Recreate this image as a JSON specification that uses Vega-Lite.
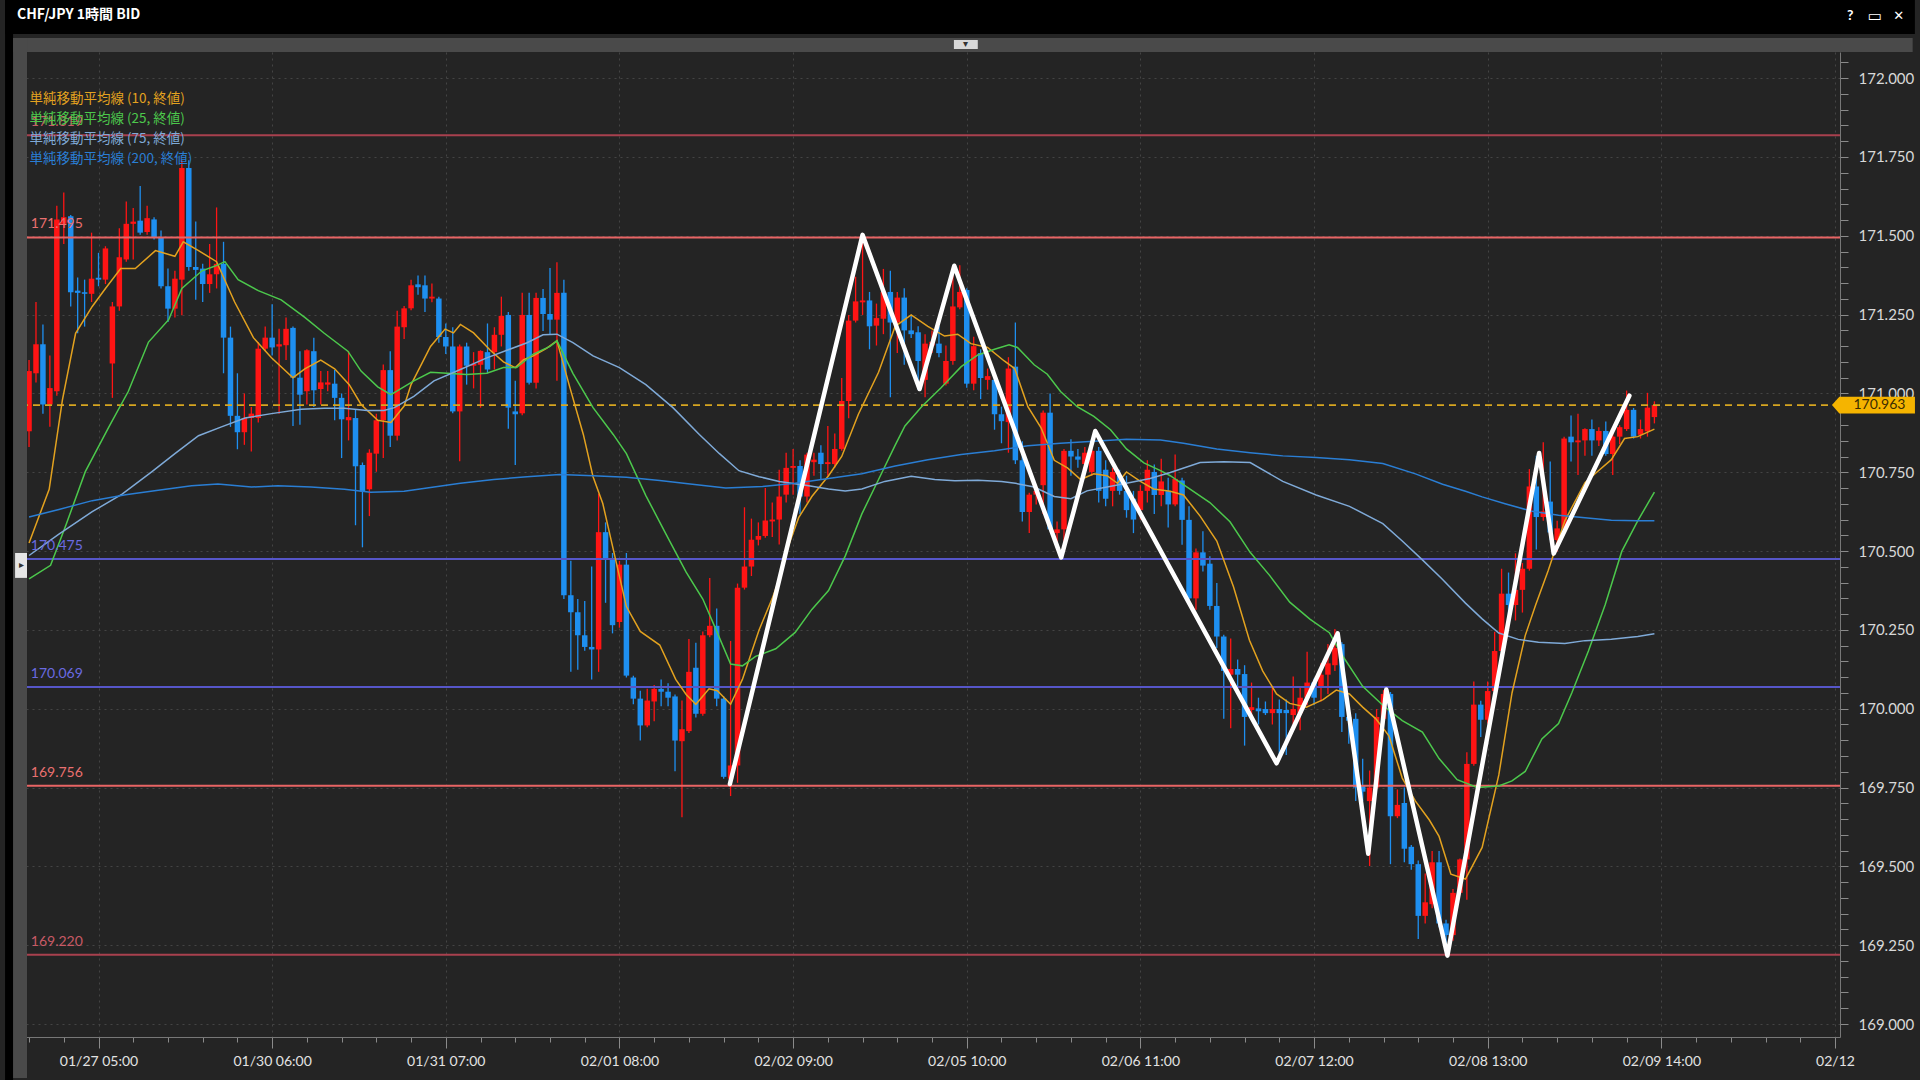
{
"$schema": "https://vega.github.io/schema/vega-lite/v6.json",
"width": 1817, "height": 985,
"autosize": {"type": "none"},
"padding": {"left": 23, "top": 52, "right": 80, "bottom": 43},
"background": "#242424",
"view": {"fill": "#242424", "stroke": null},
"config": {"font": "Lato"},
"datasets": {
"levels": [{"lv":171.819,"k":"a"},{"lv":171.495,"k":"b"},{"lv":170.475,"k":"c"},{"lv":170.069,"k":"c"},{"lv":169.756,"k":"b"},{"lv":169.22,"k":"a"}],
"zz": [{"i":90.9,"p":169.761},{"i":110.0,"p":171.503},{"i":118.2,"p":171.014},{"i":123.2,"p":171.405},{"i":138.6,"p":170.48},{"i":143.5,"p":170.881},{"i":169.6,"p":169.827},{"i":178.4,"p":170.239},{"i":182.8,"p":169.54},{"i":185.4,"p":170.061},{"i":194.2,"p":169.217},{"i":207.4,"p":170.811},{"i":209.5,"p":170.492},{"i":220.4,"p":170.993}],
"candles": [
{"i":-10,"o":170.880,"h":171.106,"l":170.830,"c":171.071},
{"i":-9,"o":171.064,"h":171.290,"l":171.035,"c":171.156},
{"i":-8,"o":171.156,"h":171.219,"l":170.936,"c":170.965},
{"i":-7,"o":170.965,"h":171.120,"l":170.894,"c":171.017},
{"i":-6,"o":171.007,"h":171.595,"l":170.993,"c":171.552},
{"i":-5,"o":171.538,"h":171.637,"l":171.474,"c":171.559},
{"i":-4,"o":171.562,"h":171.566,"l":171.276,"c":171.321},
{"i":-3,"o":171.326,"h":171.368,"l":171.191,"c":171.319},
{"i":-2,"o":171.321,"h":171.361,"l":171.212,"c":171.316},
{"i":-1,"o":171.316,"h":171.510,"l":171.290,"c":171.364},
{"i":0,"o":171.367,"h":171.446,"l":171.340,"c":171.361},
{"i":1,"o":171.361,"h":171.467,"l":171.347,"c":171.460},
{"i":2,"o":171.095,"h":171.290,"l":170.986,"c":171.276},
{"i":3,"o":171.276,"h":171.524,"l":171.262,"c":171.432},
{"i":4,"o":171.425,"h":171.609,"l":171.418,"c":171.538},
{"i":5,"o":171.538,"h":171.588,"l":171.425,"c":171.545},
{"i":6,"o":171.548,"h":171.658,"l":171.503,"c":171.510},
{"i":7,"o":171.512,"h":171.595,"l":171.503,"c":171.556},
{"i":8,"o":171.552,"h":171.559,"l":171.488,"c":171.496},
{"i":9,"o":171.496,"h":171.517,"l":171.333,"c":171.340},
{"i":10,"o":171.340,"h":171.396,"l":171.227,"c":171.269},
{"i":11,"o":171.269,"h":171.389,"l":171.241,"c":171.364},
{"i":12,"o":171.361,"h":171.740,"l":171.248,"c":171.715},
{"i":13,"o":171.715,"h":171.740,"l":171.389,"c":171.401},
{"i":14,"o":171.401,"h":171.545,"l":171.297,"c":171.392},
{"i":15,"o":171.396,"h":171.411,"l":171.290,"c":171.347},
{"i":16,"o":171.347,"h":171.474,"l":171.319,"c":171.378},
{"i":17,"o":171.378,"h":171.590,"l":171.333,"c":171.411},
{"i":18,"o":171.411,"h":171.481,"l":171.064,"c":171.177},
{"i":19,"o":171.177,"h":171.212,"l":170.894,"c":170.929},
{"i":20,"o":170.929,"h":171.064,"l":170.823,"c":170.877},
{"i":21,"o":170.877,"h":171.000,"l":170.837,"c":170.922},
{"i":22,"o":170.922,"h":170.957,"l":170.816,"c":170.936},
{"i":23,"o":170.922,"h":171.163,"l":170.908,"c":171.142},
{"i":24,"o":171.142,"h":171.212,"l":171.134,"c":171.177},
{"i":25,"o":171.177,"h":171.283,"l":171.120,"c":171.146},
{"i":26,"o":171.149,"h":171.205,"l":170.936,"c":171.156},
{"i":27,"o":171.153,"h":171.241,"l":171.106,"c":171.205},
{"i":28,"o":171.208,"h":171.212,"l":170.897,"c":171.050},
{"i":29,"o":171.050,"h":171.134,"l":170.901,"c":170.996},
{"i":30,"o":171.007,"h":171.140,"l":170.965,"c":171.137},
{"i":31,"o":171.134,"h":171.177,"l":170.957,"c":171.010},
{"i":32,"o":171.014,"h":171.071,"l":170.965,"c":171.035},
{"i":33,"o":171.028,"h":171.071,"l":171.007,"c":171.035},
{"i":34,"o":171.031,"h":171.074,"l":170.915,"c":170.986},
{"i":35,"o":170.986,"h":171.000,"l":170.795,"c":170.918},
{"i":36,"o":170.915,"h":171.134,"l":170.851,"c":170.925},
{"i":37,"o":170.922,"h":170.950,"l":170.582,"c":170.769},
{"i":38,"o":170.773,"h":170.781,"l":170.512,"c":170.689},
{"i":39,"o":170.696,"h":170.823,"l":170.611,"c":170.812},
{"i":40,"o":170.809,"h":170.936,"l":170.752,"c":170.915},
{"i":41,"o":170.915,"h":171.092,"l":170.795,"c":171.074},
{"i":42,"o":171.074,"h":171.134,"l":170.830,"c":170.866},
{"i":43,"o":170.866,"h":171.262,"l":170.851,"c":171.212},
{"i":44,"o":171.210,"h":171.277,"l":171.173,"c":171.270},
{"i":45,"o":171.270,"h":171.361,"l":171.264,"c":171.343},
{"i":46,"o":171.346,"h":171.374,"l":171.313,"c":171.337},
{"i":47,"o":171.343,"h":171.374,"l":171.258,"c":171.301},
{"i":48,"o":171.301,"h":171.349,"l":171.289,"c":171.307},
{"i":49,"o":171.301,"h":171.307,"l":171.161,"c":171.179},
{"i":50,"o":171.179,"h":171.222,"l":171.125,"c":171.149},
{"i":51,"o":171.149,"h":171.210,"l":170.937,"c":170.943},
{"i":52,"o":170.943,"h":171.155,"l":170.785,"c":171.149},
{"i":53,"o":171.149,"h":171.161,"l":171.028,"c":171.088},
{"i":54,"o":171.088,"h":171.131,"l":171.016,"c":171.094},
{"i":55,"o":171.091,"h":171.137,"l":170.955,"c":171.135},
{"i":56,"o":171.131,"h":171.222,"l":171.064,"c":171.076},
{"i":57,"o":171.131,"h":171.210,"l":171.076,"c":171.186},
{"i":58,"o":171.186,"h":171.307,"l":171.149,"c":171.246},
{"i":59,"o":171.249,"h":171.258,"l":170.888,"c":170.955},
{"i":60,"o":170.943,"h":171.040,"l":170.773,"c":170.934},
{"i":61,"o":170.937,"h":171.319,"l":170.931,"c":171.249},
{"i":62,"o":171.249,"h":171.319,"l":171.028,"c":171.034},
{"i":63,"o":171.034,"h":171.319,"l":171.016,"c":171.303},
{"i":64,"o":171.303,"h":171.331,"l":171.198,"c":171.252},
{"i":65,"o":171.252,"h":171.398,"l":171.186,"c":171.234},
{"i":66,"o":171.234,"h":171.416,"l":171.040,"c":171.319},
{"i":67,"o":171.319,"h":171.361,"l":170.348,"c":170.360},
{"i":68,"o":170.360,"h":170.469,"l":170.117,"c":170.306},
{"i":69,"o":170.306,"h":170.348,"l":170.124,"c":170.233},
{"i":70,"o":170.233,"h":170.342,"l":170.184,"c":170.196},
{"i":71,"o":170.196,"h":170.451,"l":170.093,"c":170.188},
{"i":72,"o":170.188,"h":170.682,"l":170.117,"c":170.560},
{"i":73,"o":170.560,"h":170.591,"l":170.336,"c":170.475},
{"i":74,"o":170.475,"h":170.494,"l":170.239,"c":170.265},
{"i":75,"o":170.275,"h":170.469,"l":170.257,"c":170.457},
{"i":76,"o":170.457,"h":170.494,"l":170.099,"c":170.105},
{"i":77,"o":170.099,"h":170.105,"l":170.014,"c":170.032},
{"i":78,"o":170.032,"h":170.057,"l":169.899,"c":169.947},
{"i":79,"o":169.947,"h":170.063,"l":169.941,"c":170.026},
{"i":80,"o":170.023,"h":170.075,"l":169.960,"c":170.063},
{"i":81,"o":170.063,"h":170.093,"l":170.008,"c":170.054},
{"i":82,"o":170.054,"h":170.081,"l":170.008,"c":170.035},
{"i":83,"o":170.039,"h":170.045,"l":169.802,"c":169.899},
{"i":84,"o":169.897,"h":170.026,"l":169.656,"c":169.935},
{"i":85,"o":169.929,"h":170.221,"l":169.923,"c":170.117},
{"i":86,"o":170.130,"h":170.209,"l":169.972,"c":169.984},
{"i":87,"o":169.984,"h":170.245,"l":169.978,"c":170.233},
{"i":88,"o":170.233,"h":170.415,"l":170.227,"c":170.263},
{"i":89,"o":170.263,"h":170.318,"l":170.008,"c":170.032},
{"i":90,"o":170.032,"h":170.040,"l":169.778,"c":169.784},
{"i":91,"o":169.778,"h":170.215,"l":169.723,"c":169.820},
{"i":92,"o":169.820,"h":170.397,"l":169.765,"c":170.384},
{"i":93,"o":170.384,"h":170.639,"l":170.378,"c":170.451},
{"i":94,"o":170.451,"h":170.603,"l":170.421,"c":170.536},
{"i":95,"o":170.536,"h":170.591,"l":170.518,"c":170.548},
{"i":96,"o":170.548,"h":170.700,"l":170.542,"c":170.597},
{"i":97,"o":170.594,"h":170.654,"l":170.545,"c":170.600},
{"i":98,"o":170.600,"h":170.758,"l":170.521,"c":170.673},
{"i":99,"o":170.679,"h":170.812,"l":170.654,"c":170.764},
{"i":100,"o":170.764,"h":170.824,"l":170.679,"c":170.770},
{"i":101,"o":170.770,"h":170.788,"l":170.618,"c":170.673},
{"i":102,"o":170.673,"h":170.812,"l":170.654,"c":170.806},
{"i":103,"o":170.782,"h":170.812,"l":170.739,"c":170.790},
{"i":104,"o":170.812,"h":170.836,"l":170.727,"c":170.776},
{"i":105,"o":170.776,"h":170.897,"l":170.739,"c":170.782},
{"i":106,"o":170.776,"h":170.873,"l":170.764,"c":170.824},
{"i":107,"o":170.824,"h":171.049,"l":170.818,"c":170.976},
{"i":108,"o":170.976,"h":171.249,"l":170.921,"c":171.231},
{"i":109,"o":171.231,"h":171.370,"l":171.225,"c":171.292},
{"i":110,"o":171.289,"h":171.498,"l":171.249,"c":171.295},
{"i":111,"o":171.295,"h":171.322,"l":171.140,"c":171.213},
{"i":112,"o":171.215,"h":171.285,"l":171.152,"c":171.239},
{"i":113,"o":171.237,"h":171.395,"l":171.188,"c":171.322},
{"i":114,"o":171.322,"h":171.389,"l":170.988,"c":171.225},
{"i":115,"o":171.225,"h":171.322,"l":171.128,"c":171.304},
{"i":116,"o":171.304,"h":171.334,"l":171.091,"c":171.200},
{"i":117,"o":171.200,"h":171.249,"l":171.176,"c":171.188},
{"i":118,"o":171.194,"h":171.213,"l":171.012,"c":171.103},
{"i":119,"o":171.043,"h":171.188,"l":170.988,"c":171.158},
{"i":120,"o":171.152,"h":171.200,"l":171.128,"c":171.164},
{"i":121,"o":171.158,"h":171.213,"l":171.115,"c":171.128},
{"i":122,"o":171.031,"h":171.152,"l":171.025,"c":171.103},
{"i":123,"o":171.103,"h":171.382,"l":171.091,"c":171.276},
{"i":124,"o":171.273,"h":171.407,"l":171.267,"c":171.322},
{"i":125,"o":171.328,"h":171.334,"l":171.018,"c":171.031},
{"i":126,"o":171.031,"h":171.180,"l":171.010,"c":171.150},
{"i":127,"o":171.128,"h":171.140,"l":170.982,"c":171.049},
{"i":128,"o":171.043,"h":171.079,"l":171.012,"c":171.055},
{"i":129,"o":171.043,"h":171.055,"l":170.885,"c":170.934},
{"i":130,"o":170.934,"h":170.958,"l":170.842,"c":170.912},
{"i":131,"o":170.909,"h":171.115,"l":170.812,"c":171.079},
{"i":132,"o":171.085,"h":171.225,"l":170.776,"c":170.788},
{"i":133,"o":170.788,"h":170.848,"l":170.594,"c":170.624},
{"i":134,"o":170.624,"h":170.685,"l":170.557,"c":170.679},
{"i":135,"o":170.679,"h":170.709,"l":170.648,"c":170.691},
{"i":136,"o":170.709,"h":170.946,"l":170.618,"c":170.939},
{"i":137,"o":170.939,"h":171.000,"l":170.563,"c":170.569},
{"i":138,"o":170.557,"h":170.594,"l":170.521,"c":170.569},
{"i":139,"o":170.569,"h":170.824,"l":170.509,"c":170.818},
{"i":140,"o":170.818,"h":170.855,"l":170.739,"c":170.800},
{"i":141,"o":170.800,"h":170.824,"l":170.764,"c":170.790},
{"i":142,"o":170.776,"h":170.830,"l":170.751,"c":170.812},
{"i":143,"o":170.751,"h":170.830,"l":170.739,"c":170.818},
{"i":144,"o":170.818,"h":170.830,"l":170.654,"c":170.691},
{"i":145,"o":170.758,"h":170.788,"l":170.642,"c":170.666},
{"i":146,"o":170.691,"h":170.764,"l":170.642,"c":170.751},
{"i":147,"o":170.739,"h":170.758,"l":170.679,"c":170.691},
{"i":148,"o":170.691,"h":170.739,"l":170.606,"c":170.630},
{"i":149,"o":170.666,"h":170.691,"l":170.557,"c":170.600},
{"i":150,"o":170.630,"h":170.709,"l":170.600,"c":170.691},
{"i":151,"o":170.691,"h":170.788,"l":170.654,"c":170.758},
{"i":152,"o":170.751,"h":170.775,"l":170.618,"c":170.678},
{"i":153,"o":170.678,"h":170.793,"l":170.642,"c":170.721},
{"i":154,"o":170.690,"h":170.733,"l":170.575,"c":170.648},
{"i":155,"o":170.648,"h":170.806,"l":170.642,"c":170.729},
{"i":156,"o":170.724,"h":170.733,"l":170.520,"c":170.599},
{"i":157,"o":170.599,"h":170.642,"l":170.338,"c":170.350},
{"i":158,"o":170.350,"h":170.508,"l":170.314,"c":170.496},
{"i":159,"o":170.496,"h":170.563,"l":170.435,"c":170.454},
{"i":160,"o":170.460,"h":170.484,"l":170.314,"c":170.326},
{"i":161,"o":170.326,"h":170.399,"l":170.193,"c":170.229},
{"i":162,"o":170.229,"h":170.235,"l":169.968,"c":170.120},
{"i":163,"o":170.108,"h":170.223,"l":169.938,"c":170.126},
{"i":164,"o":170.126,"h":170.156,"l":170.071,"c":170.108},
{"i":165,"o":170.110,"h":170.138,"l":169.883,"c":169.974},
{"i":166,"o":169.996,"h":170.083,"l":169.968,"c":170.005},
{"i":167,"o":170.001,"h":170.035,"l":169.950,"c":169.992},
{"i":168,"o":169.999,"h":170.023,"l":169.980,"c":169.986},
{"i":169,"o":169.986,"h":170.071,"l":169.950,"c":169.999},
{"i":170,"o":169.999,"h":170.029,"l":169.835,"c":169.986},
{"i":171,"o":169.996,"h":170.029,"l":169.853,"c":169.986},
{"i":172,"o":169.980,"h":170.102,"l":169.950,"c":169.999},
{"i":173,"o":169.986,"h":170.071,"l":169.932,"c":170.035},
{"i":174,"o":170.035,"h":170.181,"l":170.011,"c":170.083},
{"i":175,"o":170.083,"h":170.096,"l":170.011,"c":170.035},
{"i":176,"o":170.071,"h":170.144,"l":170.023,"c":170.108},
{"i":177,"o":170.108,"h":170.205,"l":170.047,"c":170.144},
{"i":178,"o":170.138,"h":170.253,"l":170.120,"c":170.193},
{"i":179,"o":170.205,"h":170.211,"l":169.926,"c":169.974},
{"i":180,"o":169.974,"h":169.999,"l":169.889,"c":169.962},
{"i":181,"o":169.968,"h":169.986,"l":169.707,"c":169.750},
{"i":182,"o":169.756,"h":169.841,"l":169.707,"c":169.737},
{"i":183,"o":169.707,"h":169.804,"l":169.501,"c":169.750},
{"i":184,"o":169.750,"h":169.999,"l":169.744,"c":169.974},
{"i":185,"o":169.968,"h":170.059,"l":169.950,"c":170.047},
{"i":186,"o":170.047,"h":170.053,"l":169.507,"c":169.659},
{"i":187,"o":169.659,"h":169.744,"l":169.653,"c":169.695},
{"i":188,"o":169.701,"h":169.750,"l":169.513,"c":169.556},
{"i":189,"o":169.562,"h":169.568,"l":169.489,"c":169.507},
{"i":190,"o":169.507,"h":169.519,"l":169.270,"c":169.343},
{"i":191,"o":169.343,"h":169.477,"l":169.319,"c":169.386},
{"i":192,"o":169.380,"h":169.549,"l":169.367,"c":169.513},
{"i":193,"o":169.513,"h":169.549,"l":169.307,"c":169.319},
{"i":194,"o":169.319,"h":169.331,"l":169.235,"c":169.282},
{"i":195,"o":169.282,"h":169.428,"l":169.264,"c":169.416},
{"i":196,"o":169.416,"h":169.525,"l":169.410,"c":169.522},
{"i":197,"o":169.522,"h":169.862,"l":169.394,"c":169.825},
{"i":198,"o":169.825,"h":170.086,"l":169.819,"c":170.013},
{"i":199,"o":170.013,"h":170.025,"l":169.910,"c":169.965},
{"i":200,"o":169.965,"h":170.086,"l":169.953,"c":170.056},
{"i":201,"o":170.056,"h":170.244,"l":170.050,"c":170.183},
{"i":202,"o":170.183,"h":170.444,"l":170.171,"c":170.365},
{"i":203,"o":170.365,"h":170.432,"l":170.280,"c":170.329},
{"i":204,"o":170.329,"h":170.493,"l":170.280,"c":170.377},
{"i":205,"o":170.377,"h":170.462,"l":170.305,"c":170.444},
{"i":206,"o":170.444,"h":170.760,"l":170.438,"c":170.705},
{"i":207,"o":170.705,"h":170.802,"l":170.505,"c":170.608},
{"i":208,"o":170.608,"h":170.845,"l":170.596,"c":170.626},
{"i":209,"o":170.657,"h":170.784,"l":170.535,"c":170.559},
{"i":210,"o":170.535,"h":170.596,"l":170.499,"c":170.572},
{"i":211,"o":170.572,"h":170.863,"l":170.565,"c":170.857},
{"i":212,"o":170.863,"h":170.930,"l":170.784,"c":170.845},
{"i":213,"o":170.845,"h":170.936,"l":170.741,"c":170.851},
{"i":214,"o":170.851,"h":170.890,"l":170.802,"c":170.887},
{"i":215,"o":170.887,"h":170.917,"l":170.802,"c":170.851},
{"i":216,"o":170.851,"h":170.893,"l":170.833,"c":170.881},
{"i":217,"o":170.881,"h":170.911,"l":170.802,"c":170.808},
{"i":218,"o":170.808,"h":170.881,"l":170.741,"c":170.863},
{"i":219,"o":170.863,"h":170.899,"l":170.839,"c":170.893},
{"i":220,"o":170.887,"h":171.009,"l":170.881,"c":170.948},
{"i":221,"o":170.948,"h":170.954,"l":170.857,"c":170.863},
{"i":222,"o":170.869,"h":170.917,"l":170.857,"c":170.887},
{"i":223,"o":170.880,"h":171.002,"l":170.863,"c":170.955},
{"i":224,"o":170.925,"h":170.975,"l":170.905,"c":170.963}
],
"ma": [
{"i":-10,"m":"MA10","v":170.526},{"i":-7.1,"m":"MA10","v":170.696},{"i":-5.2,"m":"MA10","v":170.979},{"i":-3.3,"m":"MA10","v":171.191},{"i":-0.9,"m":"MA10","v":171.276},{"i":1,"m":"MA10","v":171.333},{"i":3.2,"m":"MA10","v":171.396},{"i":5.3,"m":"MA10","v":171.396},{"i":8.2,"m":"MA10","v":171.453},{"i":11,"m":"MA10","v":171.435},{"i":12.2,"m":"MA10","v":171.481},{"i":14.4,"m":"MA10","v":171.453},{"i":17,"m":"MA10","v":171.418},{"i":19.6,"m":"MA10","v":171.29},{"i":22.3,"m":"MA10","v":171.177},{"i":24.9,"m":"MA10","v":171.113},{"i":28,"m":"MA10","v":171.05},{"i":29.7,"m":"MA10","v":171.078},{"i":32,"m":"MA10","v":171.106},{"i":34,"m":"MA10","v":171.078},{"i":36.1,"m":"MA10","v":171.028},{"i":37.8,"m":"MA10","v":170.965},{"i":40.2,"m":"MA10","v":170.915},{"i":42.1,"m":"MA10","v":170.908},{"i":44,"m":"MA10","v":170.96},{"i":45,"m":"MA10","v":171.028},{"i":47.8,"m":"MA10","v":171.149},{"i":49.9,"m":"MA10","v":171.204},{"i":51.1,"m":"MA10","v":171.192},{"i":52.1,"m":"MA10","v":171.219},{"i":54,"m":"MA10","v":171.192},{"i":56.4,"m":"MA10","v":171.137},{"i":58.3,"m":"MA10","v":171.1},{"i":60,"m":"MA10","v":171.082},{"i":61.2,"m":"MA10","v":171.107},{"i":62.6,"m":"MA10","v":171.119},{"i":64.5,"m":"MA10","v":171.143},{"i":66,"m":"MA10","v":171.167},{"i":67.9,"m":"MA10","v":171.016},{"i":69.8,"m":"MA10","v":170.87},{"i":71.2,"m":"MA10","v":170.736},{"i":72.6,"m":"MA10","v":170.651},{"i":74.1,"m":"MA10","v":170.506},{"i":76,"m":"MA10","v":170.324},{"i":78,"m":"MA10","v":170.245},{"i":80.8,"m":"MA10","v":170.202},{"i":83.1,"m":"MA10","v":170.093},{"i":84.6,"m":"MA10","v":170.045},{"i":86,"m":"MA10","v":170.014},{"i":87.9,"m":"MA10","v":170.063},{"i":89.1,"m":"MA10","v":170.057},{"i":91,"m":"MA10","v":170.014},{"i":92.7,"m":"MA10","v":170.093},{"i":95.1,"m":"MA10","v":170.25},{"i":97,"m":"MA10","v":170.35},{"i":98,"m":"MA10","v":170.412},{"i":99.4,"m":"MA10","v":170.521},{"i":100.8,"m":"MA10","v":170.606},{"i":102.7,"m":"MA10","v":170.673},{"i":105.1,"m":"MA10","v":170.739},{"i":107,"m":"MA10","v":170.8},{"i":109.4,"m":"MA10","v":170.934},{"i":112.3,"m":"MA10","v":171.067},{"i":114.7,"m":"MA10","v":171.213},{"i":117,"m":"MA10","v":171.249},{"i":119.4,"m":"MA10","v":171.213},{"i":121.8,"m":"MA10","v":171.182},{"i":123.7,"m":"MA10","v":171.188},{"i":125.6,"m":"MA10","v":171.158},{"i":128,"m":"MA10","v":171.146},{"i":130.4,"m":"MA10","v":171.103},{"i":131.9,"m":"MA10","v":171.079},{"i":133.8,"m":"MA10","v":170.958},{"i":135.7,"m":"MA10","v":170.891},{"i":137.6,"m":"MA10","v":170.788},{"i":139.5,"m":"MA10","v":170.764},{"i":141.4,"m":"MA10","v":170.727},{"i":143.3,"m":"MA10","v":170.745},{"i":145.2,"m":"MA10","v":170.739},{"i":146.7,"m":"MA10","v":170.715},{"i":148,"m":"MA10","v":170.751},{"i":150,"m":"MA10","v":170.721},{"i":151.9,"m":"MA10","v":170.697},{"i":154.3,"m":"MA10","v":170.69},{"i":156.2,"m":"MA10","v":170.678},{"i":158.6,"m":"MA10","v":170.611},{"i":161,"m":"MA10","v":170.532},{"i":163.4,"m":"MA10","v":170.387},{"i":165.7,"m":"MA10","v":170.217},{"i":167.6,"m":"MA10","v":170.12},{"i":169.6,"m":"MA10","v":170.047},{"i":171.5,"m":"MA10","v":170.017},{"i":173.9,"m":"MA10","v":170.005},{"i":176.3,"m":"MA10","v":170.029},{"i":178.2,"m":"MA10","v":170.059},{"i":180.1,"m":"MA10","v":170.047},{"i":182,"m":"MA10","v":170.005},{"i":183.9,"m":"MA10","v":169.968},{"i":185.8,"m":"MA10","v":169.913},{"i":187.7,"m":"MA10","v":169.78},{"i":189.6,"m":"MA10","v":169.707},{"i":191.6,"m":"MA10","v":169.647},{"i":193,"m":"MA10","v":169.595},{"i":194.7,"m":"MA10","v":169.475},{"i":196.8,"m":"MA10","v":169.46},{"i":199.2,"m":"MA10","v":169.56},{"i":201.6,"m":"MA10","v":169.79},{"i":203.5,"m":"MA10","v":170.05},{"i":205.4,"m":"MA10","v":170.232},{"i":206.9,"m":"MA10","v":170.329},{"i":208.7,"m":"MA10","v":170.438},{"i":211.1,"m":"MA10","v":170.596},{"i":214,"m":"MA10","v":170.717},{"i":215.9,"m":"MA10","v":170.754},{"i":217.8,"m":"MA10","v":170.79},{"i":219.7,"m":"MA10","v":170.857},{"i":221.6,"m":"MA10","v":170.863},{"i":224,"m":"MA10","v":170.887},
{"i":-10,"m":"MA25","v":170.412},{"i":-6.9,"m":"MA25","v":170.455},{"i":-4.7,"m":"MA25","v":170.582},{"i":-1.9,"m":"MA25","v":170.752},{"i":1.5,"m":"MA25","v":170.894},{"i":4.3,"m":"MA25","v":171.007},{"i":7.2,"m":"MA25","v":171.163},{"i":10.1,"m":"MA25","v":171.234},{"i":12,"m":"MA25","v":171.333},{"i":14.9,"m":"MA25","v":171.389},{"i":16.8,"m":"MA25","v":171.404},{"i":18.2,"m":"MA25","v":171.418},{"i":20.1,"m":"MA25","v":171.361},{"i":23,"m":"MA25","v":171.326},{"i":26.3,"m":"MA25","v":171.297},{"i":29.7,"m":"MA25","v":171.241},{"i":32.5,"m":"MA25","v":171.191},{"i":35.9,"m":"MA25","v":171.134},{"i":37.8,"m":"MA25","v":171.071},{"i":40.2,"m":"MA25","v":171.021},{"i":42.1,"m":"MA25","v":170.996},{"i":45.4,"m":"MA25","v":171.04},{"i":47.8,"m":"MA25","v":171.067},{"i":50.2,"m":"MA25","v":171.064},{"i":53,"m":"MA25","v":171.06},{"i":55.9,"m":"MA25","v":171.064},{"i":58.3,"m":"MA25","v":171.082},{"i":60.2,"m":"MA25","v":171.082},{"i":62.6,"m":"MA25","v":171.125},{"i":65,"m":"MA25","v":171.149},{"i":66,"m":"MA25","v":171.167},{"i":68.3,"m":"MA25","v":171.064},{"i":71.2,"m":"MA25","v":170.955},{"i":74.1,"m":"MA25","v":170.87},{"i":76,"m":"MA25","v":170.809},{"i":78.8,"m":"MA25","v":170.676},{"i":81.7,"m":"MA25","v":170.554},{"i":84.6,"m":"MA25","v":170.433},{"i":87,"m":"MA25","v":170.348},{"i":88.9,"m":"MA25","v":170.251},{"i":91,"m":"MA25","v":170.142},{"i":92.7,"m":"MA25","v":170.136},{"i":94.6,"m":"MA25","v":170.166},{"i":97.5,"m":"MA25","v":170.19},{"i":100.3,"m":"MA25","v":170.242},{"i":102.7,"m":"MA25","v":170.315},{"i":105.1,"m":"MA25","v":170.375},{"i":107.5,"m":"MA25","v":170.484},{"i":109.9,"m":"MA25","v":170.618},{"i":112.3,"m":"MA25","v":170.727},{"i":114.7,"m":"MA25","v":170.836},{"i":116.1,"m":"MA25","v":170.897},{"i":118.5,"m":"MA25","v":170.958},{"i":121.3,"m":"MA25","v":171.018},{"i":124.2,"m":"MA25","v":171.085},{"i":126.6,"m":"MA25","v":171.122},{"i":129,"m":"MA25","v":171.14},{"i":131.1,"m":"MA25","v":171.154},{"i":132.3,"m":"MA25","v":171.146},{"i":134.7,"m":"MA25","v":171.091},{"i":136.6,"m":"MA25","v":171.061},{"i":138.5,"m":"MA25","v":171.006},{"i":140.9,"m":"MA25","v":170.958},{"i":143.3,"m":"MA25","v":170.927},{"i":145.7,"m":"MA25","v":170.885},{"i":148,"m":"MA25","v":170.824},{"i":150.5,"m":"MA25","v":170.78},{"i":152.9,"m":"MA25","v":170.755},{"i":154.3,"m":"MA25","v":170.739},{"i":157.2,"m":"MA25","v":170.696},{"i":160,"m":"MA25","v":170.654},{"i":162.9,"m":"MA25","v":170.593},{"i":165.8,"m":"MA25","v":170.496},{"i":168.6,"m":"MA25","v":170.423},{"i":171.5,"m":"MA25","v":170.338},{"i":174.4,"m":"MA25","v":170.284},{"i":177.2,"m":"MA25","v":170.241},{"i":179.1,"m":"MA25","v":170.168},{"i":182,"m":"MA25","v":170.071},{"i":184.9,"m":"MA25","v":170.011},{"i":187.7,"m":"MA25","v":169.962},{"i":190.6,"m":"MA25","v":169.926},{"i":193,"m":"MA25","v":169.842},{"i":195.6,"m":"MA25","v":169.775},{"i":198.5,"m":"MA25","v":169.75},{"i":201.6,"m":"MA25","v":169.755},{"i":203.5,"m":"MA25","v":169.771},{"i":205.4,"m":"MA25","v":169.801},{"i":207.8,"m":"MA25","v":169.904},{"i":210.2,"m":"MA25","v":169.953},{"i":212.1,"m":"MA25","v":170.05},{"i":214.5,"m":"MA25","v":170.183},{"i":216.9,"m":"MA25","v":170.329},{"i":219.3,"m":"MA25","v":170.499},{"i":221.6,"m":"MA25","v":170.596},{"i":224,"m":"MA25","v":170.687},
{"i":-10,"m":"MA75","v":170.486},{"i":-5.7,"m":"MA75","v":170.554},{"i":-0.9,"m":"MA75","v":170.625},{"i":3.4,"m":"MA75","v":170.681},{"i":7.7,"m":"MA75","v":170.752},{"i":11,"m":"MA75","v":170.809},{"i":14.4,"m":"MA75","v":170.866},{"i":17.7,"m":"MA75","v":170.894},{"i":21.1,"m":"MA75","v":170.922},{"i":24.9,"m":"MA75","v":170.936},{"i":29.2,"m":"MA75","v":170.95},{"i":32.5,"m":"MA75","v":170.953},{"i":35.4,"m":"MA75","v":170.953},{"i":38.7,"m":"MA75","v":170.946},{"i":41.1,"m":"MA75","v":170.946},{"i":42.6,"m":"MA75","v":170.955},{"i":45.4,"m":"MA75","v":170.991},{"i":48.3,"m":"MA75","v":171.04},{"i":52.1,"m":"MA75","v":171.076},{"i":55.9,"m":"MA75","v":171.113},{"i":58.8,"m":"MA75","v":171.137},{"i":61.7,"m":"MA75","v":171.161},{"i":64,"m":"MA75","v":171.186},{"i":66,"m":"MA75","v":171.188},{"i":68.3,"m":"MA75","v":171.161},{"i":71.2,"m":"MA75","v":171.119},{"i":75,"m":"MA75","v":171.082},{"i":78.8,"m":"MA75","v":171.028},{"i":82.7,"m":"MA75","v":170.955},{"i":86.5,"m":"MA75","v":170.87},{"i":89.4,"m":"MA75","v":170.809},{"i":92.2,"m":"MA75","v":170.755},{"i":95.1,"m":"MA75","v":170.736},{"i":98,"m":"MA75","v":170.721},{"i":101.8,"m":"MA75","v":170.709},{"i":105.1,"m":"MA75","v":170.697},{"i":107.5,"m":"MA75","v":170.691},{"i":109.9,"m":"MA75","v":170.697},{"i":113.2,"m":"MA75","v":170.721},{"i":117,"m":"MA75","v":170.737},{"i":120.4,"m":"MA75","v":170.727},{"i":123.3,"m":"MA75","v":170.723},{"i":126.6,"m":"MA75","v":170.725},{"i":130,"m":"MA75","v":170.721},{"i":132,"m":"MA75","v":170.715},{"i":134.7,"m":"MA75","v":170.703},{"i":137.6,"m":"MA75","v":170.673},{"i":140,"m":"MA75","v":170.666},{"i":142.3,"m":"MA75","v":170.691},{"i":145.2,"m":"MA75","v":170.703},{"i":148,"m":"MA75","v":170.715},{"i":151.4,"m":"MA75","v":170.73},{"i":154.3,"m":"MA75","v":170.749},{"i":158.6,"m":"MA75","v":170.781},{"i":162,"m":"MA75","v":170.783},{"i":165.8,"m":"MA75","v":170.781},{"i":170.5,"m":"MA75","v":170.721},{"i":175.3,"m":"MA75","v":170.678},{"i":180.1,"m":"MA75","v":170.642},{"i":184.9,"m":"MA75","v":170.587},{"i":187.7,"m":"MA75","v":170.532},{"i":190.6,"m":"MA75","v":170.472},{"i":193.4,"m":"MA75","v":170.412},{"i":196.8,"m":"MA75","v":170.335},{"i":199.2,"m":"MA75","v":170.285},{"i":201.6,"m":"MA75","v":170.24},{"i":204.4,"m":"MA75","v":170.22},{"i":207.3,"m":"MA75","v":170.211},{"i":211.1,"m":"MA75","v":170.207},{"i":214,"m":"MA75","v":170.216},{"i":217.8,"m":"MA75","v":170.22},{"i":221.6,"m":"MA75","v":170.229},{"i":224,"m":"MA75","v":170.238},
{"i":-10,"m":"MA200","v":170.608},{"i":-5.7,"m":"MA200","v":170.632},{"i":-0.9,"m":"MA200","v":170.66},{"i":3.9,"m":"MA200","v":170.679},{"i":8.6,"m":"MA200","v":170.693},{"i":13.4,"m":"MA200","v":170.707},{"i":17.2,"m":"MA200","v":170.713},{"i":22,"m":"MA200","v":170.703},{"i":25.8,"m":"MA200","v":170.707},{"i":30.6,"m":"MA200","v":170.703},{"i":35.4,"m":"MA200","v":170.696},{"i":39.2,"m":"MA200","v":170.687},{"i":44,"m":"MA200","v":170.69},{"i":47.3,"m":"MA200","v":170.7},{"i":52.1,"m":"MA200","v":170.715},{"i":56.9,"m":"MA200","v":170.727},{"i":61.7,"m":"MA200","v":170.736},{"i":66.4,"m":"MA200","v":170.743},{"i":71.2,"m":"MA200","v":170.739},{"i":76,"m":"MA200","v":170.734},{"i":80.8,"m":"MA200","v":170.724},{"i":85.5,"m":"MA200","v":170.712},{"i":90.3,"m":"MA200","v":170.7},{"i":95.6,"m":"MA200","v":170.705},{"i":100.3,"m":"MA200","v":170.715},{"i":105.1,"m":"MA200","v":170.73},{"i":109.9,"m":"MA200","v":170.745},{"i":114.7,"m":"MA200","v":170.77},{"i":119.4,"m":"MA200","v":170.79},{"i":124.2,"m":"MA200","v":170.806},{"i":129,"m":"MA200","v":170.818},{"i":133.8,"m":"MA200","v":170.834},{"i":138.5,"m":"MA200","v":170.842},{"i":143.3,"m":"MA200","v":170.848},{"i":148,"m":"MA200","v":170.855},{"i":152.9,"m":"MA200","v":170.852},{"i":156.2,"m":"MA200","v":170.842},{"i":161,"m":"MA200","v":170.824},{"i":165.8,"m":"MA200","v":170.812},{"i":170.5,"m":"MA200","v":170.802},{"i":175.3,"m":"MA200","v":170.797},{"i":180.1,"m":"MA200","v":170.79},{"i":184.9,"m":"MA200","v":170.778},{"i":189.6,"m":"MA200","v":170.745},{"i":193.5,"m":"MA200","v":170.712},{"i":196.8,"m":"MA200","v":170.69},{"i":199.2,"m":"MA200","v":170.672},{"i":202.5,"m":"MA200","v":170.65},{"i":206.4,"m":"MA200","v":170.626},{"i":210.2,"m":"MA200","v":170.614},{"i":214,"m":"MA200","v":170.606},{"i":217.8,"m":"MA200","v":170.598},{"i":221.6,"m":"MA200","v":170.596},{"i":224,"m":"MA200","v":170.596}
]
},
"layer": [
{
"data": {"name": "candles"},
"mark": {"type": "rule", "strokeWidth": 1.3, "clip": true},
"encoding": {
"x": {"field": "i", "type": "quantitative", "title": null, "scale": {"domain": [-10.15, 250], "nice": false, "zero": false},
"axis": {"orient": "bottom", "title": null, "tickCount": 80,
"values": [-10,-5,0,5,10,15,20,25,30,35,40,45,50,55,60,65,70,75,80,85,90,95,100,105,110,115,120,125,130,135,140,145,150,155,160,165,170,175,180,185,190,195,200,205,210,215,220,225,230,235,240,245,250],
"labelExpr": "datum.value >= 0 && datum.value % 25 == 0 ? ['01/27 05:00','01/30 06:00','01/31 07:00','02/01 08:00','02/02 09:00','02/05 10:00','02/06 11:00','02/07 12:00','02/08 13:00','02/09 14:00','02/12'][datum.value/25] : ''",
"labelOverlap": false, "labelFlush": true, "labelColor": "#e2e2e2", "labelFontSize": 14, "labelPadding": 6,
"grid": true, "gridColor": "#444444", "gridDash": [2, 4],
"gridOpacity": {"condition": {"test": "datum.value % 25 == 0", "value": 1}, "value": 0},
"tickSize": {"condition": {"test": "datum.value % 25 == 0", "value": 11}, "value": 5},
"tickColor": "#8a8a8a", "domainColor": "#777777"}},
"y": {"field": "l", "type": "quantitative", "title": null, "scale": {"domain": [168.9588, 172.083], "nice": false, "zero": false},
"axis": {"orient": "right", "title": null, "tickCount": 80,
"values": [169,169.05,169.1,169.15,169.2,169.25,169.3,169.35,169.4,169.45,169.5,169.55,169.6,169.65,169.7,169.75,169.8,169.85,169.9,169.95,170,170.05,170.1,170.15,170.2,170.25,170.3,170.35,170.4,170.45,170.5,170.55,170.6,170.65,170.7,170.75,170.8,170.85,170.9,170.95,171,171.05,171.1,171.15,171.2,171.25,171.3,171.35,171.4,171.45,171.5,171.55,171.6,171.65,171.7,171.75,171.8,171.85,171.9,171.95,172,172.05],
"labelExpr": "abs(datum.value*4 - round(datum.value*4)) < 0.001 ? format(datum.value, '.3f') : ''",
"labelOverlap": false, "labelColor": "#d8d8d8", "labelFontSize": 15, "labelPadding": 10,
"grid": true, "gridColor": "#444444", "gridDash": [2, 4],
"gridOpacity": {"condition": {"test": "abs(datum.value*4 - round(datum.value*4)) < 0.001", "value": 1}, "value": 0},
"tickSize": 8, "tickColor": "#8a8a8a", "domainColor": "#777777"}},
"y2": {"field": "h"},
"color": {"condition": {"test": "datum.c >= datum.o", "value": "#ff1414"}, "value": "#1e8ff0"}
}
},
{
"data": {"name": "candles"},
"mark": {"type": "bar", "size": 5.5, "clip": true},
"encoding": {
"x": {"field": "i", "type": "quantitative", "title": null},
"y": {"field": "o", "type": "quantitative", "title": null},
"y2": {"field": "c"},
"color": {"condition": {"test": "datum.c >= datum.o", "value": "#ff1414"}, "value": "#1e8ff0"}
}
},
{
"data": {"name": "levels"},
"mark": {"type": "rule", "strokeWidth": 2},
"encoding": {
"y": {"field": "lv", "type": "quantitative", "title": null},
"stroke": {"field": "k", "type": "nominal", "scale": {"domain": ["a","b","c"], "range": ["#a8404e","#e86464","#5656c8"]}, "legend": null}
}
},
{
"data": {"values": [{}]},
"mark": {"type": "rule", "color": "#d6a520", "strokeWidth": 1.6, "strokeDash": [7, 5]},
"encoding": {"y": {"datum": 170.963, "type": "quantitative", "title": null}}
},
{
"data": {"name": "ma"},
"mark": {"type": "line", "strokeWidth": 1.5, "clip": true},
"encoding": {
"x": {"field": "i", "type": "quantitative", "title": null},
"y": {"field": "v", "type": "quantitative", "title": null},
"color": {"field": "m", "type": "nominal",
"scale": {"domain": ["MA10","MA25","MA75","MA200"], "range": ["#e3a21f","#4cc84c","#7faad8","#2a7ed4"]},
"legend": {"orient": "none", "legendX": -7, "legendY": 40, "title": null,
"symbolSize": 0, "symbolOpacity": 0, "symbolStrokeWidth": 0, "labelOffset": 0,
"labelFont": "Noto Sans CJK JP", "labelFontSize": 13.5, "labelLimit": 400, "rowPadding": 5, "padding": 0,
"labelExpr": "datum.label == 'MA10' ? '単純移動平均線 (10, 終値)' : datum.label == 'MA25' ? '単純移動平均線 (25, 終値)' : datum.label == 'MA75' ? '単純移動平均線 (75, 終値)' : '単純移動平均線 (200, 終値)'",
"encode": {"labels": {"update": {"fill": {"scale": "color", "field": "value"}}}}}}
}
},
{
"data": {"name": "zz"},
"mark": {"type": "line", "color": "#ffffff", "strokeWidth": 4.5, "strokeCap": "round", "strokeJoin": "round", "clip": true},
"encoding": {
"x": {"field": "i", "type": "quantitative", "title": null},
"y": {"field": "p", "type": "quantitative", "title": null}
}
},
{
"data": {"name": "levels"},
"mark": {"type": "text", "align": "left", "baseline": "middle", "dy": -13, "fontSize": 14},
"encoding": {
"x": {"datum": -9.75, "type": "quantitative", "title": null},
"y": {"field": "lv", "type": "quantitative", "title": null},
"text": {"field": "lv", "type": "quantitative", "format": ".3f"},
"fill": {"field": "k", "type": "nominal", "scale": {"domain": ["a","b","c"], "range": ["#c85a66","#ea7070","#6a6ae0"]}, "legend": null}
}
},
{
"data": {"values": [{}]},
"layer": [
{"mark": {"type": "rect", "color": "#000000", "clip": false},
 "encoding": {"x": {"datum": -13.45, "type": "quantitative", "title": null}, "x2": {"datum": 261.5}, "y": {"datum": 172.2479, "type": "quantitative", "title": null}, "y2": {"datum": 172.1401}}},
{"mark": {"type": "rect", "color": "#4a4a4a", "clip": false},
 "encoding": {"x": {"datum": -12.298, "type": "quantitative", "title": null}, "x2": {"datum": 261.18}, "y": {"datum": 172.1274, "type": "quantitative", "title": null}, "y2": {"datum": 172.083}}},
{"mark": {"type": "rect", "color": "#000000", "clip": false},
 "encoding": {"x": {"datum": -13.45, "type": "quantitative", "title": null}, "x2": {"datum": -12.298}, "y": {"datum": 172.2479, "type": "quantitative", "title": null}, "y2": {"datum": 168.8225}}},
{"mark": {"type": "rect", "color": "#4a4a4a", "clip": false},
 "encoding": {"x": {"datum": -12.298, "type": "quantitative", "title": null}, "x2": {"datum": -10.293}, "y": {"datum": 172.1274, "type": "quantitative", "title": null}, "y2": {"datum": 168.8287}}},
{"mark": {"type": "rect", "color": "#e6e6e6", "clip": false},
 "encoding": {"x": {"datum": -12.011, "type": "quantitative", "title": null}, "x2": {"datum": -10.293}, "y": {"datum": 170.494, "type": "quantitative", "title": null}, "y2": {"datum": 170.415}}},
{"mark": {"type": "rect", "color": "#d8d8d8", "clip": false},
 "encoding": {"x": {"datum": 123.15, "type": "quantitative", "title": null}, "x2": {"datum": 126.59}, "y": {"datum": 172.121, "type": "quantitative", "title": null}, "y2": {"datum": 172.0925}}},
{"mark": {"type": "text", "text": "▾", "color": "#333333", "fontSize": 10, "align": "center", "baseline": "middle", "clip": false},
 "encoding": {"x": {"datum": 124.87, "type": "quantitative", "title": null}, "y": {"datum": 172.107, "type": "quantitative", "title": null}}},
{"mark": {"type": "text", "text": "▸", "color": "#333333", "fontSize": 10, "align": "center", "baseline": "middle", "clip": false},
 "encoding": {"x": {"datum": -11.15, "type": "quantitative", "title": null}, "y": {"datum": 170.455, "type": "quantitative", "title": null}}},
{"mark": {"type": "text", "text": "CHF/JPY 1時間 BID", "color": "#ffffff", "font": "Noto Sans CJK JP", "fontWeight": "bold", "fontSize": 14, "align": "left", "baseline": "middle", "clip": false},
 "encoding": {"x": {"datum": -11.73, "type": "quantitative", "title": null}, "y": {"datum": 172.2, "type": "quantitative", "title": null}}},
{"mark": {"type": "text", "text": "?", "color": "#ffffff", "fontWeight": "bold", "fontSize": 14, "align": "center", "baseline": "middle", "clip": false},
 "encoding": {"x": {"datum": 252.2, "type": "quantitative", "title": null}, "y": {"datum": 172.197, "type": "quantitative", "title": null}}},
{"mark": {"type": "text", "text": "▭", "color": "#ffffff", "font": "DejaVu Sans", "fontWeight": "bold", "fontSize": 15, "align": "center", "baseline": "middle", "clip": false},
 "encoding": {"x": {"datum": 255.74, "type": "quantitative", "title": null}, "y": {"datum": 172.197, "type": "quantitative", "title": null}}},
{"mark": {"type": "text", "text": "✕", "color": "#ffffff", "font": "DejaVu Sans", "fontWeight": "bold", "fontSize": 13, "align": "center", "baseline": "middle", "clip": false},
 "encoding": {"x": {"datum": 259.18, "type": "quantitative", "title": null}, "y": {"datum": 172.197, "type": "quantitative", "title": null}}},
{"mark": {"type": "point", "shape": "M -1 0 L -0.82 -0.2 L 1 -0.2 L 1 0.2 L -0.82 0.2 Z", "filled": true, "color": "#f5b400", "opacity": 1, "size": 6889, "clip": false},
 "encoding": {"x": {"datum": 255.53, "type": "quantitative", "title": null}, "y": {"datum": 170.963, "type": "quantitative", "title": null}}},
{"mark": {"type": "text", "text": "170.963", "color": "#3b2c00", "fontSize": 14, "align": "center", "baseline": "middle", "clip": false},
 "encoding": {"x": {"datum": 256.4, "type": "quantitative", "title": null}, "y": {"datum": 170.963, "type": "quantitative", "title": null}}}
]
}
]
}
